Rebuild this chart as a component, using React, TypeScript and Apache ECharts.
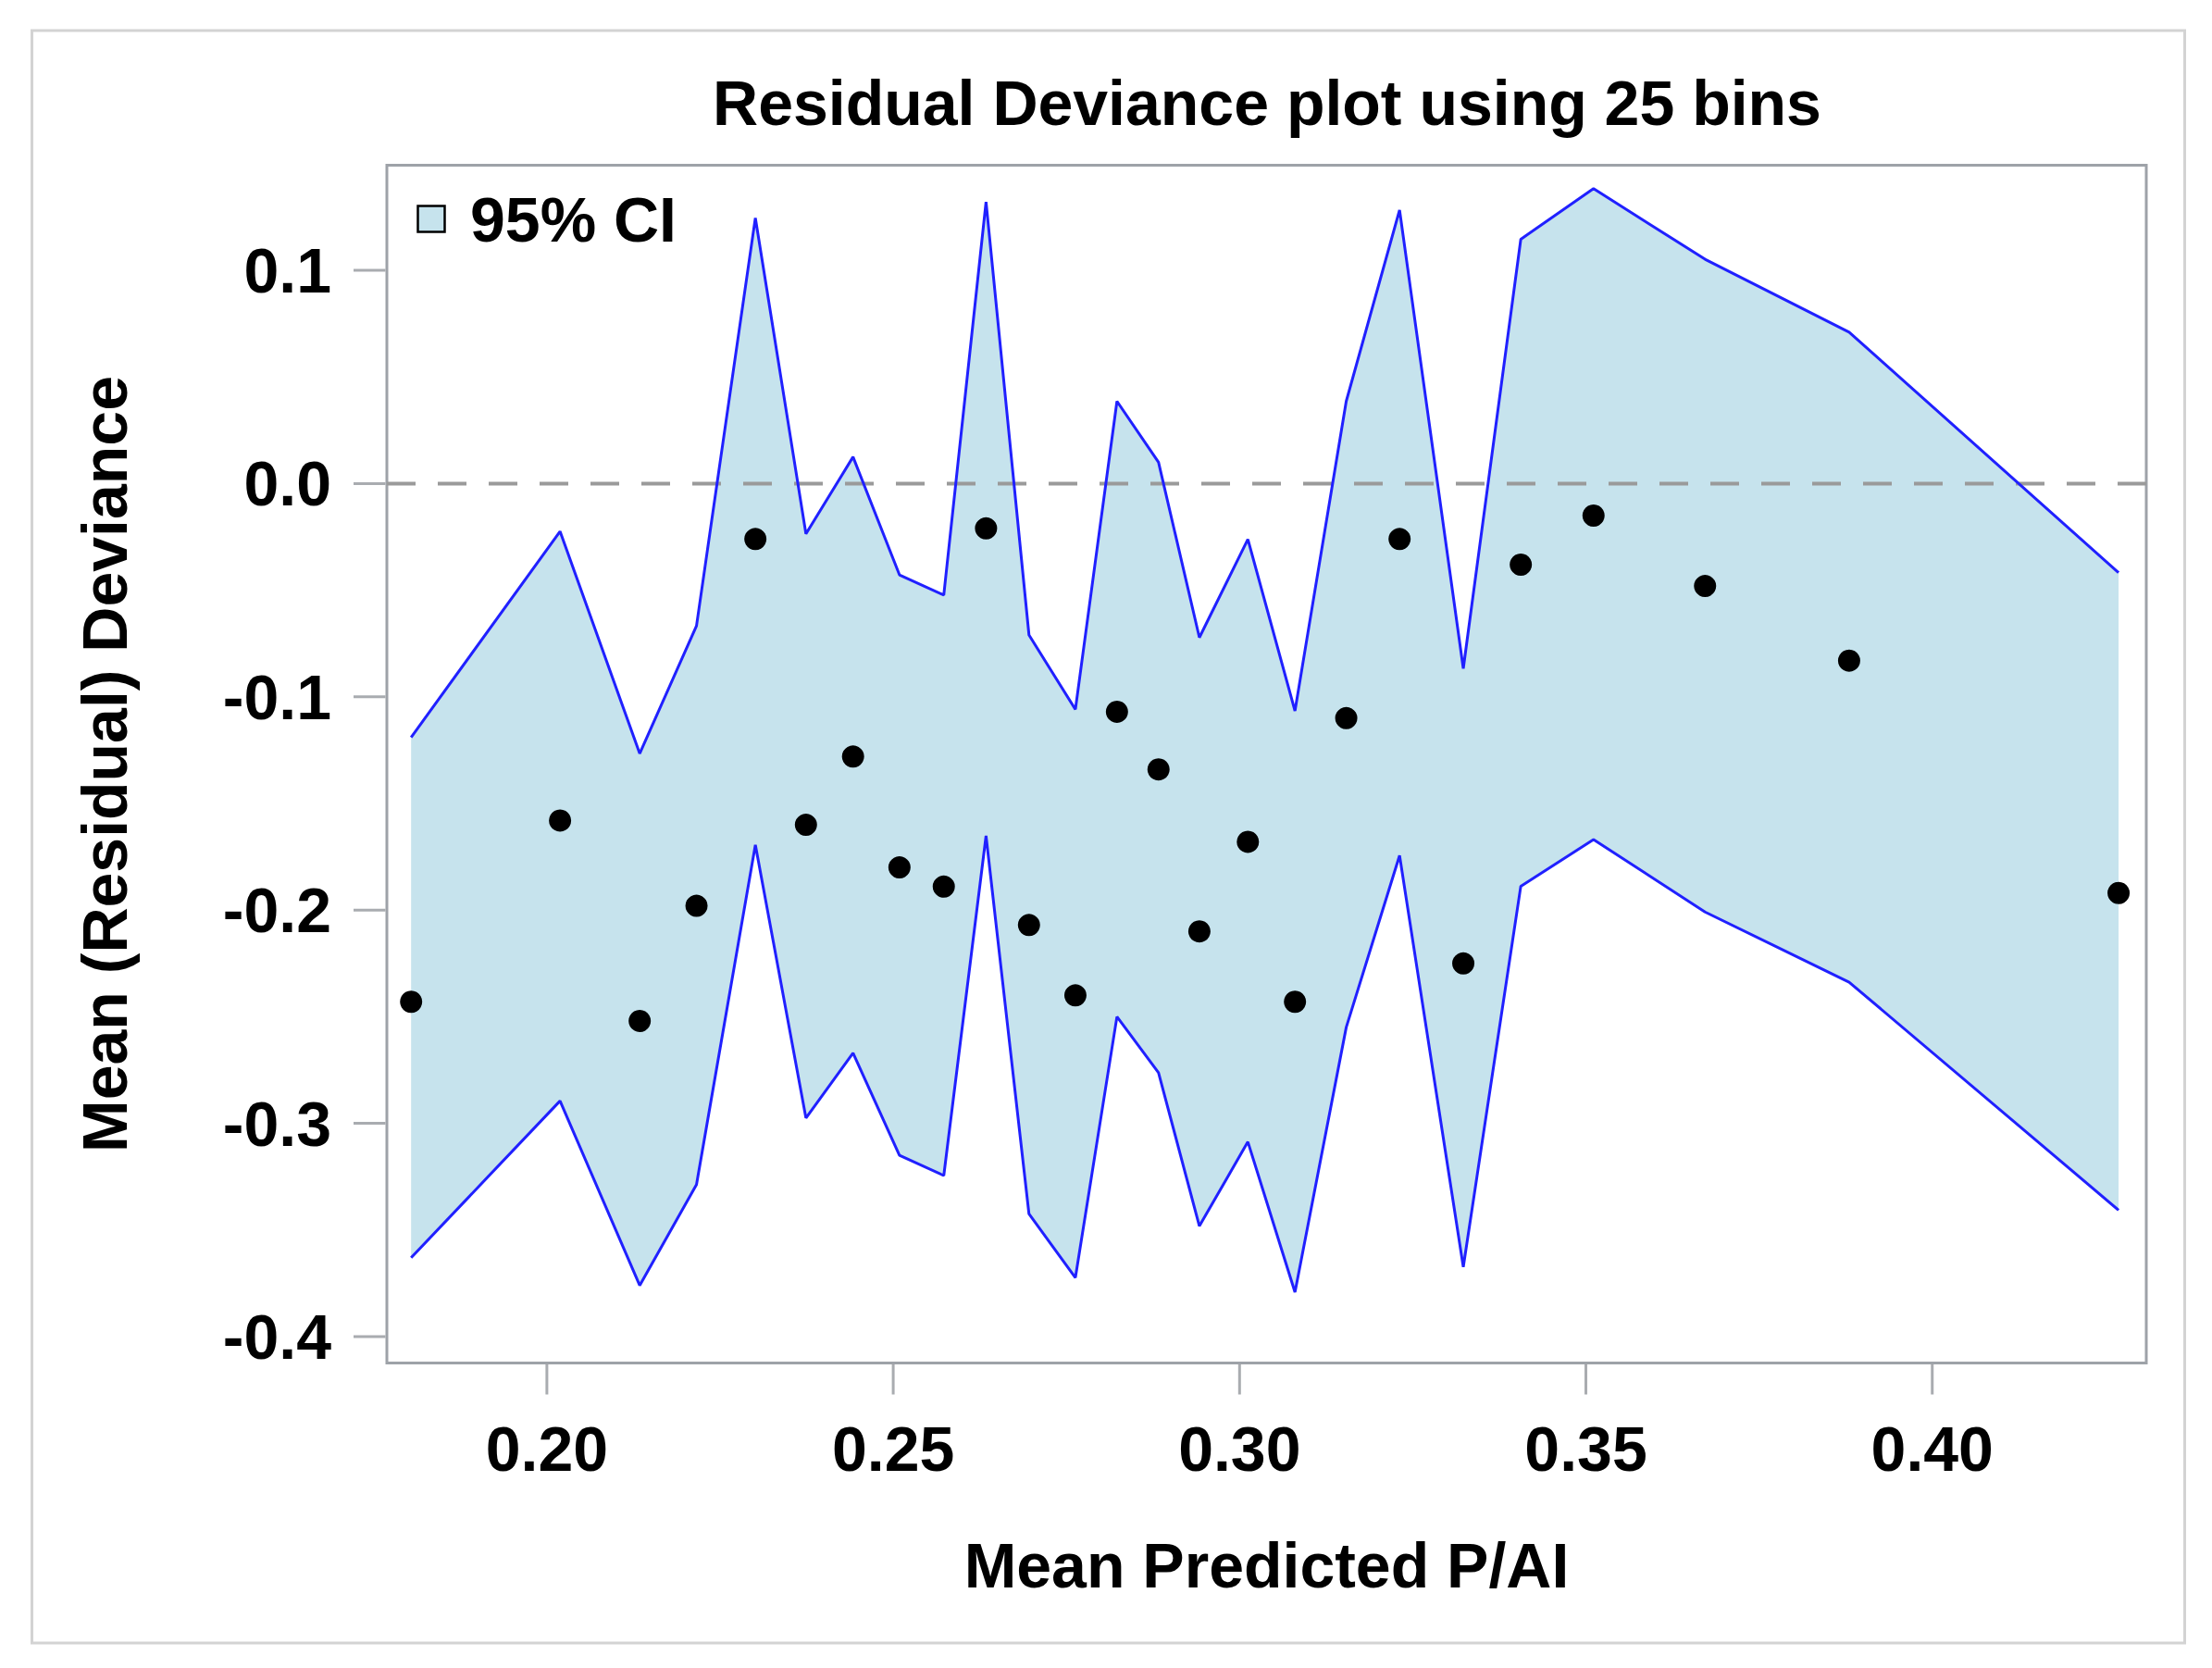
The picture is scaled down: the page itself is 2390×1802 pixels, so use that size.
import React, { useEffect, useRef } from "react";
import * as echarts from "echarts";

const binX = [
  0.1804, 0.2019, 0.2134, 0.2216, 0.2301, 0.2374, 0.2442, 0.2509, 0.2573, 0.2634,
  0.2696, 0.2763, 0.2823, 0.2883, 0.2942, 0.3012, 0.308, 0.3154, 0.3231, 0.3323,
  0.3406, 0.3511, 0.3672, 0.388, 0.4269,
];
const meanDev = [
  -0.243, -0.158, -0.252, -0.198, -0.026, -0.16, -0.128, -0.18, -0.189, -0.021,
  -0.207, -0.24, -0.107, -0.134, -0.21, -0.168, -0.243, -0.11, -0.026, -0.225,
  -0.038, -0.015, -0.048, -0.083, -0.192,
];
const lowerCI = [
  -0.363, -0.2895, -0.376, -0.3287, -0.1694, -0.2975, -0.267, -0.315, -0.3245, -0.1652,
  -0.3425, -0.3724, -0.25, -0.2763, -0.3482, -0.3087, -0.3792, -0.255, -0.1744, -0.3674,
  -0.1888, -0.1669, -0.2009, -0.2338, -0.3407,
];
const upperCI = [
  -0.119, -0.0224, -0.1266, -0.0667, 0.1246, -0.0236, 0.0125, -0.0428, -0.0523, 0.1321,
  -0.071, -0.1059, 0.0386, 0.01, -0.0722, -0.0261, -0.1066, 0.0386, 0.1283, -0.0867,
  0.1146, 0.1383, 0.1052, 0.071, -0.0418,
];
const xTicks = [0.2, 0.25, 0.3, 0.35, 0.4];
const yTicks = [-0.4, -0.3, -0.2, -0.1, 0.0, 0.1];
const X_MIN = 0.1769;
const X_MAX = 0.4309;
const Y_MIN = -0.4124;
const Y_MAX = 0.1493;

const FONT = '"Liberation Sans", Arial, sans-serif';
const FILL = "#c6e3ed";
const BLUE = "#2020ff";
const FRAME = "#9ea2a8";
const TICK = "#a9acb0";

export default function App() {
  const ref = useRef<HTMLDivElement>(null);
  useEffect(() => {
    if (!ref.current) return;
    const chart = echarts.init(ref.current, null, { renderer: "svg" });
    const bandData = binX.map((x, i) => [x, lowerCI[i], upperCI[i]]);
    const axisText = { fontFamily: FONT, fontSize: 68, fontWeight: "bold", color: "#000" };
    const baseGraphic: any[] = [
      {
        id: "outerBorder",
        type: "rect",
        silent: true,
        z: -10,
        shape: { x: 34.5, y: 33, width: 2326, height: 1742 },
        style: { fill: "none", stroke: "#d3d3d3", lineWidth: 3 },
      },
      {
        id: "legendSwatch",
        type: "rect",
        silent: true,
        z: 100,
        shape: { x: 451.5, y: 222.5, width: 29, height: 28 },
        style: { fill: FILL, stroke: "#000", lineWidth: 2.5 },
      },
      {
        id: "legendText",
        type: "text",
        silent: true,
        z: 100,
        x: 508,
        y: 237,
        style: {
          text: "95% CI",
          font: `bold 68px ${FONT}`,
          fill: "#000",
          verticalAlign: "middle",
          align: "left",
        },
      },
    ];
    const option = {
      animation: false,
      backgroundColor: "#ffffff",
      title: {
        text: "Residual Deviance plot using 25 bins",
        left: 1369,
        top: 77,
        textAlign: "center",
        padding: 0,
        textStyle: axisText,
      },
      grid: {
        left: 418,
        top: 178.5,
        width: 1901,
        height: 1294,
        show: true,
        borderColor: FRAME,
        borderWidth: 3,
        backgroundColor: "transparent",
        containLabel: false,
      },
      xAxis: {
        type: "value",
        position: "bottom",
        min: X_MIN,
        max: X_MAX,
        name: "Mean Predicted P/AI",
        nameLocation: "middle",
        nameGap: 184,
        nameTextStyle: axisText,
        axisLine: { show: false, onZero: false },
        splitLine: { show: false },
        axisTick: { show: false },
        axisLabel: {
          customValues: xTicks,
          margin: 58,
          ...axisText,
          formatter: (v: number) => v.toFixed(2),
        },
      },
      yAxis: {
        type: "value",
        position: "left",
        min: Y_MIN,
        max: Y_MAX,
        name: "Mean (Residual) Deviance",
        nameLocation: "middle",
        nameGap: 271,
        nameTextStyle: axisText,
        axisLine: { show: false, onZero: false },
        splitLine: { show: false },
        axisTick: { show: false },
        axisLabel: {
          customValues: yTicks,
          margin: 60,
          ...axisText,
          formatter: (v: number) => v.toFixed(1),
        },
      },
      graphic: baseGraphic,
      series: [
        {
          name: "95% CI",
          type: "custom",
          data: bandData,
          encode: { x: 0, y: [1, 2] },
          z: 1,
          silent: true,
          renderItem: (params: any, api: any) => {
            if (params.dataIndex !== 0) return null;
            const upperPts = bandData.map((d) => api.coord([d[0], d[2]]));
            const lowerPts = bandData.map((d) => api.coord([d[0], d[1]])).reverse();
            return {
              type: "polygon",
              shape: { points: upperPts.concat(lowerPts) },
              style: { fill: FILL, stroke: "none" },
            };
          },
        },
        {
          name: "zeroRef",
          type: "line",
          data: [
            [X_MIN, 0],
            [X_MAX, 0],
          ],
          symbol: "none",
          lineStyle: { color: "#9a9a9a", width: 4, type: [31, 24] },
          z: 2,
        },
        {
          name: "upper",
          type: "line",
          data: binX.map((x, i) => [x, upperCI[i]]),
          symbol: "none",
          lineStyle: { color: BLUE, width: 3 },
          z: 3,
        },
        {
          name: "lower",
          type: "line",
          data: binX.map((x, i) => [x, lowerCI[i]]),
          symbol: "none",
          lineStyle: { color: BLUE, width: 3 },
          z: 3,
        },
        {
          name: "mean",
          type: "scatter",
          data: binX.map((x, i) => [x, meanDev[i]]),
          symbol: "circle",
          symbolSize: 24,
          itemStyle: { color: "#000", opacity: 1 },
          z: 4,
        },
      ],
    };
    chart.setOption(option as any);

    // Tick marks placed through the chart's own axis scales.
    const tickEls: any[] = [];
    xTicks.forEach((v, i) => {
      const p = chart.convertToPixel({ gridIndex: 0 }, [v, Y_MIN]) as number[];
      tickEls.push({
        id: `xTick${i}`,
        type: "line",
        silent: true,
        z: 50,
        shape: { x1: p[0], y1: p[1] + 1.5, x2: p[0], y2: p[1] + 34 },
        style: { stroke: TICK, lineWidth: 3 },
      });
    });
    yTicks.forEach((v, i) => {
      const p = chart.convertToPixel({ gridIndex: 0 }, [X_MIN, v]) as number[];
      tickEls.push({
        id: `yTick${i}`,
        type: "line",
        silent: true,
        z: 50,
        shape: { x1: p[0] - 36, y1: p[1], x2: p[0] - 1.5, y2: p[1] },
        style: { stroke: TICK, lineWidth: 3 },
      });
    });
    chart.setOption({ graphic: baseGraphic.concat(tickEls) } as any);

    return () => chart.dispose();
  }, []);
  return (
    <div
      ref={ref}
      style={{ position: "absolute", left: 0, top: 0, width: 2390, height: 1802, background: "#fff" }}
    />
  );
}
